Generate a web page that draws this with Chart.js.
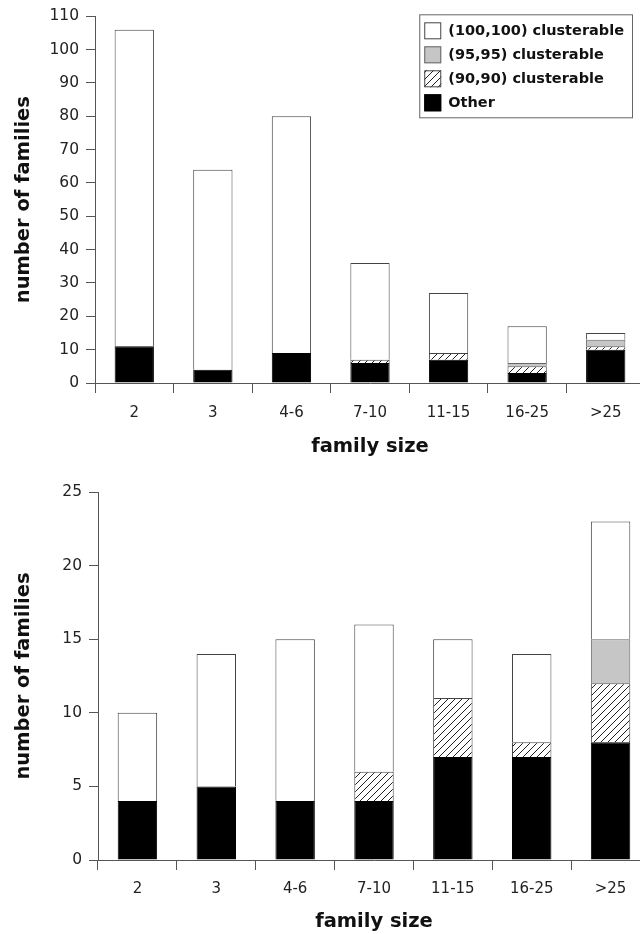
<!DOCTYPE html>
<html lang="en">
<head>
<meta charset="UTF-8">
<title>Family size distribution</title>
<script src="https://cdn.jsdelivr.net/npm/chart.js"></script>
<style>
  html, body { margin: 0; padding: 0; background: #fff; overflow: hidden; }
  .box { position: relative; width: 660px; }
  #top { height: 468px; }
  #bottom { height: 466px; }
</style>
</head>
<body>
<div class="box" id="top"><canvas id="chartAll"></canvas></div>
<div class="box" id="bottom"><canvas id="chartSub"></canvas></div>

<script>
// family size bins, shared by both panels
const categories = ["2", "3", "4-6", "7-10", "11-15", "16-25", ">25"];

// top panel
const topOther = [11, 4, 9, 6, 7, 3, 10];
const top90 = [0, 0, 0, 1, 2, 2, 1];
const top95 = [0, 0, 0, 0, 0, 1, 2];
const top100 = [95, 60, 71, 29, 18, 11, 2];
const topTicks = [0, 10, 20, 30, 40, 50, 60, 70, 80, 90, 100, 110];

// bottom panel
const botOther = [4, 5, 4, 4, 7, 7, 8];
const bot90 = [0, 0, 0, 2, 4, 1, 4];
const bot95 = [0, 0, 0, 0, 0, 0, 3];
const bot100 = [6, 9, 11, 10, 4, 6, 8];
const botTicks = [0, 5, 10, 15, 20, 25];

const seriesNames = ["Other", "(90,90) clusterable", "(95,95) clusterable", "(100,100) clusterable"];

// hatch fill for the (90,90) series
function makeHatch() {
  const c = document.createElement("canvas");
  const s = 7;
  c.width = s; c.height = s;
  const g = c.getContext("2d");
  g.fillStyle = "#fff";
  g.fillRect(0, 0, s, s);
  g.strokeStyle = "#222";
  g.lineWidth = 1;
  g.beginPath();
  g.moveTo(-1, s + 1); g.lineTo(s + 1, -1);
  g.moveTo(-1, 1); g.lineTo(1, -1);
  g.moveTo(s - 1, s + 1); g.lineTo(s + 1, s - 1);
  g.stroke();
  return g.createPattern(c, "repeat");
}
const hatch = makeHatch();

const fills = ["#000", hatch, "#c6c6c6", "#fff"];
const edges = ["#000", "#444", "#666", "#444"];

function buildDatasets(other, h90, h95, h100) {
  return [other, h90, h95, h100].map((vals, i) => ({
    label: seriesNames[i],
    data: vals,
    backgroundColor: fills[i],
    borderColor: edges[i],
    borderWidth: 1,
    categoryPercentage: 1.0,
    barPercentage: 0.5
  }));
}

// boxed legend drawn in the top-right of the plot
const legendBox = {
  id: "legendBox",
  afterDraw(chart, args, opts) {
    if (!opts.show) return;
    const ctx = chart.ctx;
    const area = chart.chartArea;
    const items = chart.data.datasets.slice().reverse();
    ctx.save();
    ctx.font = "bold 14.5px 'DejaVu Sans'";
    let textW = 0;
    items.forEach(d => { textW = Math.max(textW, ctx.measureText(d.label).width); });
    const sw = 17, row = 24, pad = 5, gap = 7;
    const w = pad + sw + gap + textW + 8;
    const h = row * items.length + 7;
    const x0 = area.right - 13 - w;
    const y0 = area.top - 2;
    ctx.fillStyle = "#fff";
    ctx.fillRect(x0, y0, w, h);
    ctx.strokeStyle = "#666";
    ctx.lineWidth = 1;
    ctx.strokeRect(x0 + 0.5, y0 + 0.5, w, h);
    ctx.textBaseline = "middle";
    items.forEach((d, i) => {
      const cy = y0 + 17 + i * row - 0.5;
      ctx.fillStyle = d.backgroundColor;
      ctx.fillRect(x0 + pad, cy - sw / 2, sw, sw);
      ctx.strokeStyle = d.borderColor;
      ctx.strokeRect(x0 + pad + 0.5, cy - sw / 2 + 0.5, sw - 1, sw - 1);
      ctx.fillStyle = "#111";
      ctx.fillText(d.label, x0 + pad + sw + gap, cy);
    });
    ctx.restore();
  }
};

function makeChart(id, datasets, ticks, geo) {
  new Chart(document.getElementById(id), {
    type: "bar",
    data: { labels: categories, datasets: datasets },
    plugins: [legendBox],
    options: {
      responsive: true,
      maintainAspectRatio: false,
      animation: false,
      layout: { padding: { top: geo.top, right: geo.right, left: 0, bottom: 0 } },
      plugins: {
        legend: { display: false },
        tooltip: { enabled: false },
        legendBox: { show: geo.legend }
      },
      scales: {
        x: {
          stacked: true,
          offset: true,
          grid: { drawOnChartArea: false, drawTicks: true, tickLength: 10, color: "#555", offset: true },
          border: { display: true, color: "#555", width: 1 },
          ticks: { color: "#222", font: { family: "DejaVu Sans", size: 15 }, padding: geo.xPad, maxRotation: 0 },
          title: {
            display: true, text: "family size", color: "#111",
            font: { family: "DejaVu Sans", size: 19.5, weight: "bold" },
            padding: { top: 0, bottom: geo.xTitle }
          },
          afterFit: s => { s.height = geo.xHeight; }
        },
        y: {
          stacked: true,
          min: ticks[0],
          max: ticks[ticks.length - 1],
          afterBuildTicks: s => { s.ticks = ticks.map(v => ({ value: v })); },
          grid: { drawOnChartArea: false, drawTicks: true, tickLength: 9, color: "#555" },
          border: { display: true, color: "#555", width: 1 },
          ticks: { color: "#222", font: { family: "DejaVu Sans", size: 15.5 }, padding: 7 },
          title: {
            display: true, text: "number of families", color: "#111",
            font: { family: "DejaVu Sans", size: 19.5, weight: "bold" },
            padding: { top: 12, bottom: 0 }
          },
          afterFit: s => { s.width = geo.yWidth; }
        }
      }
    }
  });
}

makeChart("chartAll", buildDatasets(topOther, top90, top95, top100), topTicks,
  { top: 16, right: 15, yWidth: 95, xHeight: 85, xPad: 11, xTitle: 9, legend: true });
makeChart("chartSub", buildDatasets(botOther, bot90, bot95, bot100), botTicks,
  { top: 24, right: 10, yWidth: 98, xHeight: 74, xPad: 10, xTitle: 0, legend: false });
</script>
</body>
</html>
